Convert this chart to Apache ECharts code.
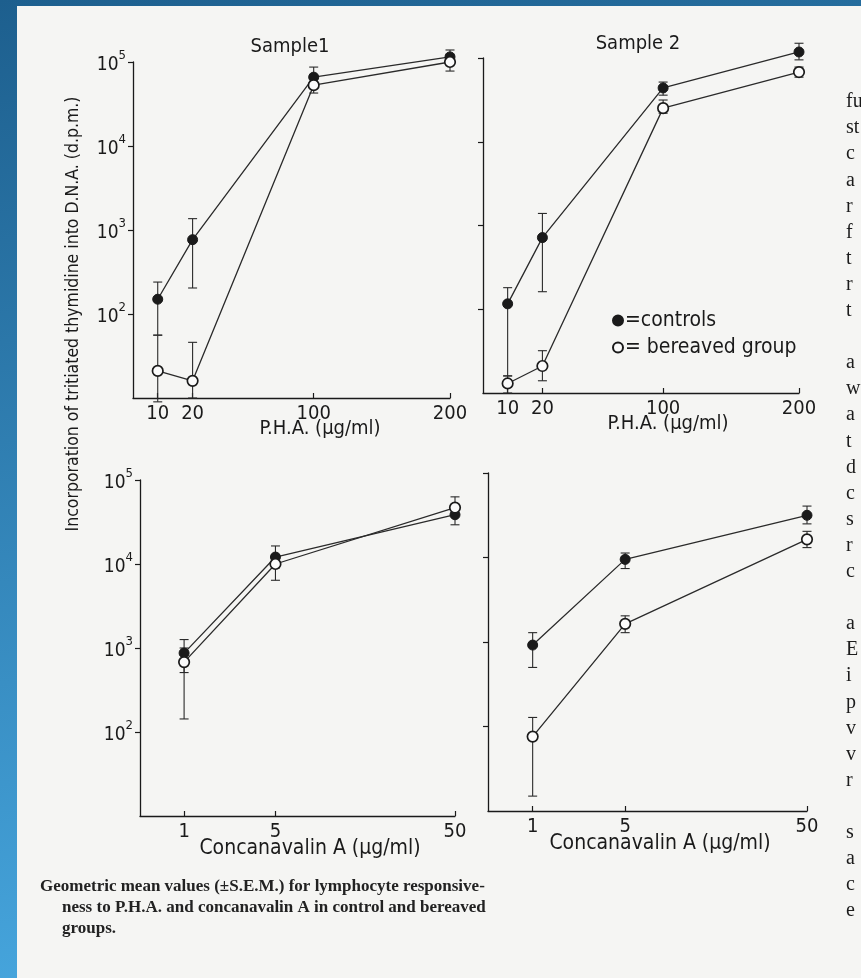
<!DOCTYPE html>
<html>
<head>
<meta charset="utf-8">
<script src="https://cdn.jsdelivr.net/npm/echarts@6/dist/echarts.min.js"></script>
<style>
html,body{margin:0;padding:0;background:#2a74a8;}
#chart{width:861px;height:978px;}
</style>
</head>
<body>
<div id="chart"></div>
<script>
// ---------------- DATA ----------------
const phaDoses = [10, 20, 100, 200];          // P.H.A. (µg/ml)
const conaDoses = [1, 5, 50];                 // Concanavalin A (µg/ml)
const yTickValues = [100, 1000, 10000, 100000];

// Sample 1, P.H.A.
const s1PhaControls     = [150, 767, 66000, 115000];
const s1PhaControlsLow  = [56, 204, 52000, 96000];
const s1PhaControlsHigh = [240, 1365, 87000, 139000];
const s1PhaBereaved     = [21, 16, 53000, 100000];
const s1PhaBereavedLow  = [9, 10, 42700, 78000];
const s1PhaBereavedHigh = [56, 46, 66000, 118000];

// Sample 2, P.H.A.
const s2PhaControls     = [116, 717, 43900, 118000];
const s2PhaControlsLow  = [16, 162, 36000, 95000];
const s2PhaControlsHigh = [181, 1393, 51600, 150000];
const s2PhaBereaved     = [13, 21, 25200, 68000];
const s2PhaBereavedLow  = [10, 14, 21900, 59000];
const s2PhaBereavedHigh = [16, 32, 31500, 78000];

// Sample 1, Concanavalin A
const s1ConaControls     = [870, 12100, 38600];
const s1ConaControlsLow  = [510, 9000, 29300];
const s1ConaControlsHigh = [1260, 16400, 48000];
const s1ConaBereaved     = [680, 10000, 47000];
const s1ConaBereavedLow  = [143, 6400, 38000];
const s1ConaBereavedHigh = [1000, 13000, 63000];

// Sample 2, Concanavalin A
const s2ConaControls     = [920, 9500, 31600];
const s2ConaControlsLow  = [500, 7400, 25000];
const s2ConaControlsHigh = [1290, 11300, 40600];
const s2ConaBereaved     = [76, 1640, 16400];
const s2ConaBereavedLow  = [15, 1290, 13100];
const s2ConaBereavedHigh = [128, 2040, 20400];

const seriesNames = ['controls', 'bereaved group'];
const panelTitles = ['Sample1', 'Sample 2'];
const yAxisTitle = 'Incorporation of tritiated thymidine into D.N.A. (d.p.m.)';
const phaAxisName = 'P.H.A. (\u00b5g/ml)';
const conaAxisName = 'Concanavalin A (\u00b5g/ml)';
const captionLines = [
  'Geometric mean values (\u00b1S.E.M.) for lymphocyte responsive-',
  'ness to P.H.A. and concanavalin A in control and bereaved',
  'groups.'
];
const sideTextLines = ['fu','st','c','a','r','f','t','r','t','',
  'a','w','a','t','d','c','s','r','c','',
  'a','E','i','p','v','v','r','',
  's','a','c','e'];

// ---------------- AXIS SCALES (hand-drawn, uneven dose spacing) ----------------
const PHA_SCALE  = { ticks: phaDoses,  at: [0.078, 0.188, 0.57, 1] };
const CONA_SCALE = { ticks: conaDoses, at: [0.14, 0.43, 1] };
function warp(scale, v) {
  let px = 0, pv = 0;
  for (let i = 0; i < scale.ticks.length; i++) {
    const tv = scale.ticks[i], ta = scale.at[i];
    if (v <= tv) return px + (ta - px) * (v - pv) / (tv - pv);
    pv = tv; px = ta;
  }
  return 1;
}

// ---------------- STYLE ----------------
const SANS = '"DejaVu Sans Condensed", "Liberation Sans Narrow", "DejaVu Sans", sans-serif';
const SERIF = '"Liberation Serif", "DejaVu Serif", serif';
const INK = '#1a1a1a';

const panels = [
  { grid: {left: 133, top: 62, width: 317, height: 336}, scale: PHA_SCALE, doses: phaDoses, yLabels: true,
    c: [s1PhaControls, s1PhaControlsLow, s1PhaControlsHigh], b: [s1PhaBereaved, s1PhaBereavedLow, s1PhaBereavedHigh] },
  { grid: {left: 483, top: 58, width: 316, height: 335}, scale: PHA_SCALE, doses: phaDoses, yLabels: false,
    c: [s2PhaControls, s2PhaControlsLow, s2PhaControlsHigh], b: [s2PhaBereaved, s2PhaBereavedLow, s2PhaBereavedHigh] },
  { grid: {left: 140, top: 480, width: 315, height: 336}, scale: CONA_SCALE, doses: conaDoses, yLabels: true,
    c: [s1ConaControls, s1ConaControlsLow, s1ConaControlsHigh], b: [s1ConaBereaved, s1ConaBereavedLow, s1ConaBereavedHigh] },
  { grid: {left: 488, top: 473, width: 319, height: 338}, scale: CONA_SCALE, doses: conaDoses, yLabels: false,
    c: [s2ConaControls, s2ConaControlsLow, s2ConaControlsHigh], b: [s2ConaBereaved, s2ConaBereavedLow, s2ConaBereavedHigh] }
];

const grids = [], xAxes = [], yAxes = [], series = [];
panels.forEach((p, i) => {
  grids.push(Object.assign({containLabel: false}, p.grid));
  const pos = p.scale.at;
  xAxes.push({
    type: 'value', gridIndex: i, min: 0, max: 1,
    axisLine: {show: true, lineStyle: {color: INK, width: 1.3}},
    axisTick: {show: true, inside: true, length: 5, customValues: pos, lineStyle: {color: INK, width: 1.2}},
    axisLabel: {show: true, customValues: pos, margin: 6, color: INK, fontFamily: SANS, fontSize: 20,
      formatter: v => { let k = 0, d = 9; pos.forEach((a, j) => { if (Math.abs(a - v) < d) { d = Math.abs(a - v); k = j; } }); return String(p.scale.ticks[k]); }},
    splitLine: {show: false}
  });
  yAxes.push({
    type: 'log', logBase: 10, gridIndex: i, min: 10, max: 100000,
    axisLine: {show: true, lineStyle: {color: INK, width: 1.3}},
    axisTick: {show: true, length: 5, customValues: yTickValues, lineStyle: {color: INK, width: 1.2}},
    axisLabel: {show: p.yLabels, customValues: yTickValues, margin: 7, color: INK,
      formatter: v => '{b|10}{s|' + Math.round(Math.log10(v)) + '}',
      rich: {b: {fontFamily: SANS, fontSize: 19, lineHeight: 26, verticalAlign: 'bottom', color: INK},
             s: {fontFamily: SANS, fontSize: 13, lineHeight: 26, verticalAlign: 'top', color: INK}}},
    splitLine: {show: false}
  });
  const groups = [p.c, p.b];
  groups.forEach((g, gi) => {
    series.push({
      type: 'custom', xAxisIndex: i, yAxisIndex: i, z: 3, silent: true,
      name: seriesNames[gi] + ' error',
      data: p.doses.map((d, k) => [warp(p.scale, d), g[1][k], g[2][k]]),
      renderItem: (params, api) => {
        const x = api.value(0);
        const a = api.coord([x, api.value(1)]);
        const b = api.coord([x, api.value(2)]);
        const w = 4.5, st = {stroke: '#2a2a2a', lineWidth: 1.1};
        return {type: 'group', children: [
          {type: 'line', shape: {x1: a[0], y1: a[1], x2: b[0], y2: b[1]}, style: st},
          {type: 'line', shape: {x1: a[0] - w, y1: a[1], x2: a[0] + w, y2: a[1]}, style: st},
          {type: 'line', shape: {x1: b[0] - w, y1: b[1], x2: b[0] + w, y2: b[1]}, style: st}
        ]};
      },
      clip: false
    });
  });
  groups.forEach((g, gi) => {
    series.push({
      type: 'line', name: seriesNames[gi], xAxisIndex: i, yAxisIndex: i, z: 5, clip: false,
      data: p.doses.map((d, k) => [warp(p.scale, d), g[0][k]]),
      symbol: 'circle', symbolSize: gi === 0 ? 10 : 10.5,
      lineStyle: {color: '#2a2a2a', width: 1.3},
      itemStyle: gi === 0 ? {color: '#1a1a1a', borderColor: '#1a1a1a', borderWidth: 1}
                          : {color: '#fbfbfb', borderColor: '#1a1a1a', borderWidth: 1.7},
      emphasis: {disabled: true},
      animation: false
    });
  });
});

// ---------------- GRAPHICS (page, titles, names, caption) ----------------
const graphic = [
  {type: 'rect', z: -20, shape: {x: 0, y: 0, width: 861, height: 978},
   style: {fill: {type: 'linear', x: 0, y: 0, x2: 0.25, y2: 1,
     colorStops: [{offset: 0, color: '#1d5f8e'}, {offset: 1, color: '#47a7df'}]}}},
  {type: 'rect', z: -19, shape: {x: 17, y: 6, width: 844, height: 972}, style: {fill: '#f5f5f3'}},
  {type: 'text', z: 50, x: 290, y: 47, style: {text: panelTitles[0], font: '20px ' + SANS, fill: INK, textAlign: 'center', textVerticalAlign: 'middle'}},
  {type: 'text', z: 50, x: 638, y: 44, style: {text: panelTitles[1], font: '20px ' + SANS, fill: INK, textAlign: 'center', textVerticalAlign: 'middle'}},
  {type: 'text', z: 50, x: 320, y: 429, style: {text: phaAxisName, font: '20px ' + SANS, fill: INK, textAlign: 'center', textVerticalAlign: 'middle'}},
  {type: 'text', z: 50, x: 668, y: 424, style: {text: phaAxisName, font: '20px ' + SANS, fill: INK, textAlign: 'center', textVerticalAlign: 'middle'}},
  {type: 'text', z: 50, x: 310, y: 849, style: {text: conaAxisName, font: '21px ' + SANS, fill: INK, textAlign: 'center', textVerticalAlign: 'middle'}},
  {type: 'text', z: 50, x: 660, y: 844, style: {text: conaAxisName, font: '21px ' + SANS, fill: INK, textAlign: 'center', textVerticalAlign: 'middle'}},
  {type: 'text', z: 50, x: 73, y: 314, rotation: Math.PI / 2,
   style: {text: yAxisTitle, font: '17.5px ' + SANS, fill: INK, textAlign: 'center', textVerticalAlign: 'middle'}}
];
captionLines.forEach((t, i) => {
  graphic.push({type: 'text', z: 50, x: i === 0 ? 40 : 62, y: 887 + i * 21,
    style: {text: t, font: 'bold 17px ' + SERIF, fill: '#222', textVerticalAlign: 'middle'}});
});
sideTextLines.forEach((t, i) => {
  if (!t) return;
  graphic.push({type: 'text', z: 50, x: 846, y: 102 + i * 26.1,
    style: {text: t, font: '20px ' + SERIF, fill: '#1c1c1c', textVerticalAlign: 'middle'}});
});

const chart = echarts.init(document.getElementById('chart'), null, {renderer: 'canvas'});
chart.setOption({
  animation: false,
  backgroundColor: 'transparent',
  grid: grids, xAxis: xAxes, yAxis: yAxes, series: series,
  legend: {
    data: seriesNames, orient: 'vertical', left: 607, top: 305, itemWidth: 10, itemHeight: 10, itemGap: 6,
    icon: 'circle', selectedMode: false,
    formatter: n => n === 'controls' ? '=controls' : '= bereaved group',
    textStyle: {fontFamily: SANS, fontSize: 21, color: INK, padding: [0, 0, 0, -3]}
  },
  graphic: graphic
});
</script>
</body>
</html>
